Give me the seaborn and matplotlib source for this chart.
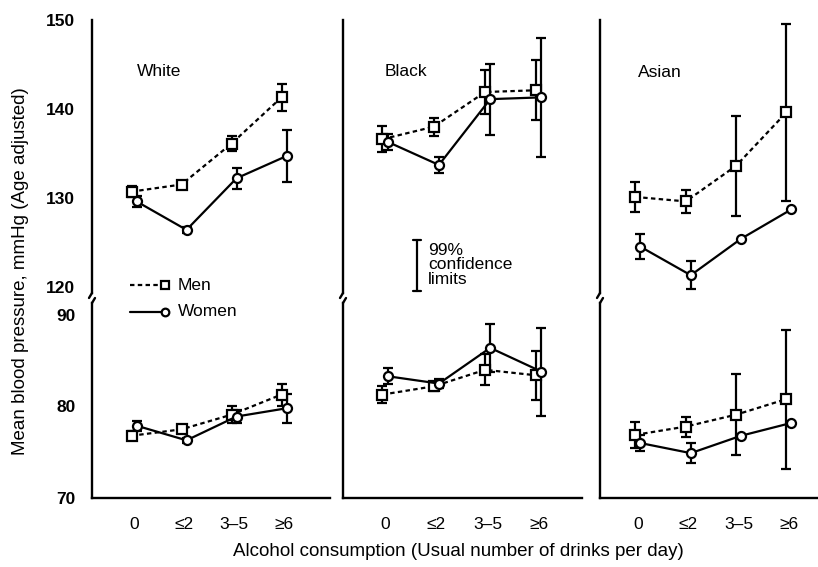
import matplotlib
matplotlib.use('Agg')
import matplotlib.pyplot as plt
from matplotlib.lines import Line2D
import pandas as pd
import seaborn as sns

categories = ['0', '≤2', '3–5', '≥6']
groups = ['White', 'Black', 'Asian']

# systolic (upper part), one list per group
sys_men = [[130.7, 131.5, 136.1, 141.3],
           [136.6, 138.0, 141.9, 142.1],
           [130.1, 129.6, 133.6, 139.6]]
sys_men_ci = [[0.6, 0.3, 0.8, 1.5],
              [1.5, 1.0, 2.5, 3.4],
              [1.7, 1.25, 5.6, 10.0]]
sys_women = [[129.6, 126.4, 132.2, 134.7],
             [136.3, 133.7, 141.1, 141.3],
             [124.5, 121.3, 125.4, 128.7]]
sys_women_ci = [[0.6, 0.3, 1.2, 2.9],
                [0.9, 0.9, 4.0, 6.7],
                [1.4, 1.6, 0.0, 0.0]]

# diastolic (lower part)
dia_men = [[76.8, 77.5, 79.1, 81.3],
           [81.3, 82.2, 84.0, 83.4],
           [76.9, 77.8, 79.1, 80.8]]
dia_men_ci = [[0.5, 0.3, 0.9, 1.2],
              [0.9, 0.5, 1.7, 2.7],
              [1.4, 1.1, 4.4, 7.6]]
dia_women = [[77.9, 76.3, 78.9, 79.8],
             [83.3, 82.5, 86.4, 83.8],
             [76.0, 74.9, 76.8, 78.2]]
dia_women_ci = [[0.55, 0.3, 0.7, 1.6],
                [0.9, 0.5, 2.6, 4.8],
                [0.9, 1.1, 0.0, 0.0]]

sns.set_style('white')
plt.rcParams['font.family'] = ['Liberation Sans', 'DejaVu Sans']
plt.rcParams.update({'text.color': 'black', 'axes.edgecolor': 'black',
                     'xtick.color': 'black', 'ytick.color': 'black',
                     'axes.labelcolor': 'black'})

W, H = 818, 567
fig = plt.figure(figsize=(W / 100, H / 100), dpi=100)


def box(left, top, right, bottom):
    return [left / W, 1 - bottom / H, (right - left) / W, (bottom - top) / H]


panel_x = [(92, 330), (343, 582), (600, 818)]
xlims = [(-0.84, 3.92), (-0.82, 3.84), (-0.755, 3.58)]
rows_y = [(20, 293, (119.3, 150.0), [120, 130, 140, 150]),
          (303, 498, (70.0, 91.3), [70, 80, 90])]
dodge = {'Men': -0.05, 'Women': 0.05}
lw = 1.6


def make_df(men, men_ci, women, women_ci):
    recs = []
    for sex, vals, ci in [('Men', men, men_ci), ('Women', women, women_ci)]:
        for j, c in enumerate(categories):
            recs.append({'sex': sex, 'pos': j + dodge[sex], 'value': vals[j], 'ci': ci[j]})
    return pd.DataFrame(recs)


for i, g in enumerate(groups):
    for r, (top, bottom, ylim, yt) in enumerate(rows_y):
        ax = fig.add_axes(box(panel_x[i][0], top, panel_x[i][1], bottom))
        ax.patch.set_alpha(0)
        if r == 0:
            df = make_df(sys_men[i], sys_men_ci[i], sys_women[i], sys_women_ci[i])
        else:
            df = make_df(dia_men[i], dia_men_ci[i], dia_women[i], dia_women_ci[i])
        eb = df[df.ci > 0]
        ax.errorbar(eb.pos, eb.value, yerr=eb.ci, fmt='none', ecolor='black',
                    elinewidth=lw, capsize=3.5, capthick=lw, zorder=2)
        sns.lineplot(data=df, x='pos', y='value', style='sex', style_order=['Men', 'Women'],
                     markers={'Men': 's', 'Women': 'o'},
                     dashes={'Men': (2.0, 1.5), 'Women': ''},
                     color='black', lw=lw, markersize=6.5, markerfacecolor='white',
                     markeredgecolor='black', markeredgewidth=lw,
                     estimator=None, sort=False, legend=False, ax=ax, zorder=3)
        ax.set_xlim(*xlims[i])
        ax.set_ylim(*ylim)
        ax.set_xlabel('')
        ax.set_ylabel('')
        for s in ['top', 'right']:
            ax.spines[s].set_visible(False)
        ax.spines['left'].set_linewidth(1.7)
        ax.spines['bottom'].set_linewidth(1.7)
        ax.tick_params(length=0)
        if i == 0:
            ax.set_yticks(yt)
            ax.set_yticklabels([str(v) for v in yt], fontsize=12.5, fontweight='bold')
            ax.tick_params(axis='y', pad=12)
        else:
            ax.set_yticks([])
        if r == 0:
            ax.spines['bottom'].set_visible(False)
            ax.set_xticks([])
        else:
            ax.set_xticks(range(len(categories)))
            ax.set_xticklabels(categories, fontsize=12.5)
            ax.tick_params(axis='x', pad=14)
        # little break marks on the left spine
        ph = 1 / (bottom - top)
        pw = 1 / (panel_x[i][1] - panel_x[i][0])
        if r == 0:
            ax.plot([0, -3 * pw], [0, -5 * ph], color='black', lw=1.7,
                    transform=ax.transAxes, clip_on=False)
        else:
            ax.plot([0, 3 * pw], [1, 1 + 5 * ph], color='black', lw=1.7,
                    transform=ax.transAxes, clip_on=False)

# group names
for name, (x, y) in zip(groups, [(137, 72), (385, 72), (638, 73)]):
    fig.text(x / W, 1 - y / H, name, fontsize=12.5, va='center', ha='left')

# legend key
for label, yy, mk, ls in [('Men', 285, 's', (0, (2.0, 1.5))), ('Women', 312, 'o', '-')]:
    fig.add_artist(Line2D([130 / W, 162 / W], [1 - yy / H] * 2, color='black', lw=lw, ls=ls))
    fig.add_artist(Line2D([165 / W], [1 - yy / H], marker=mk, markersize=5.5,
                          markerfacecolor='white', markeredgecolor='black', markeredgewidth=lw))
    fig.text(178 / W, 1 - yy / H, label, fontsize=12.5, va='center', ha='left')

# confidence limits key
fig.add_artist(Line2D([417 / W] * 2, [1 - 240 / H, 1 - 291 / H], color='black', lw=lw))
for yy in (240, 291):
    fig.add_artist(Line2D([413 / W, 421 / W], [1 - yy / H] * 2, color='black', lw=lw))
fig.text(428 / W, 1 - 265 / H, '99%\nconfidence\nlimits', fontsize=12.5, va='center',
         ha='left', linespacing=0.95)

fig.text(21 / W, 1 - 271 / H, 'Mean blood pressure, mmHg (Age adjusted)', rotation=90,
         fontsize=13.5, ha='center', va='center')
fig.text(458 / W, 1 - 551 / H, 'Alcohol consumption (Usual number of drinks per day)',
         fontsize=13.5, ha='center', va='center')

fig.savefig('out.png', dpi=100)
